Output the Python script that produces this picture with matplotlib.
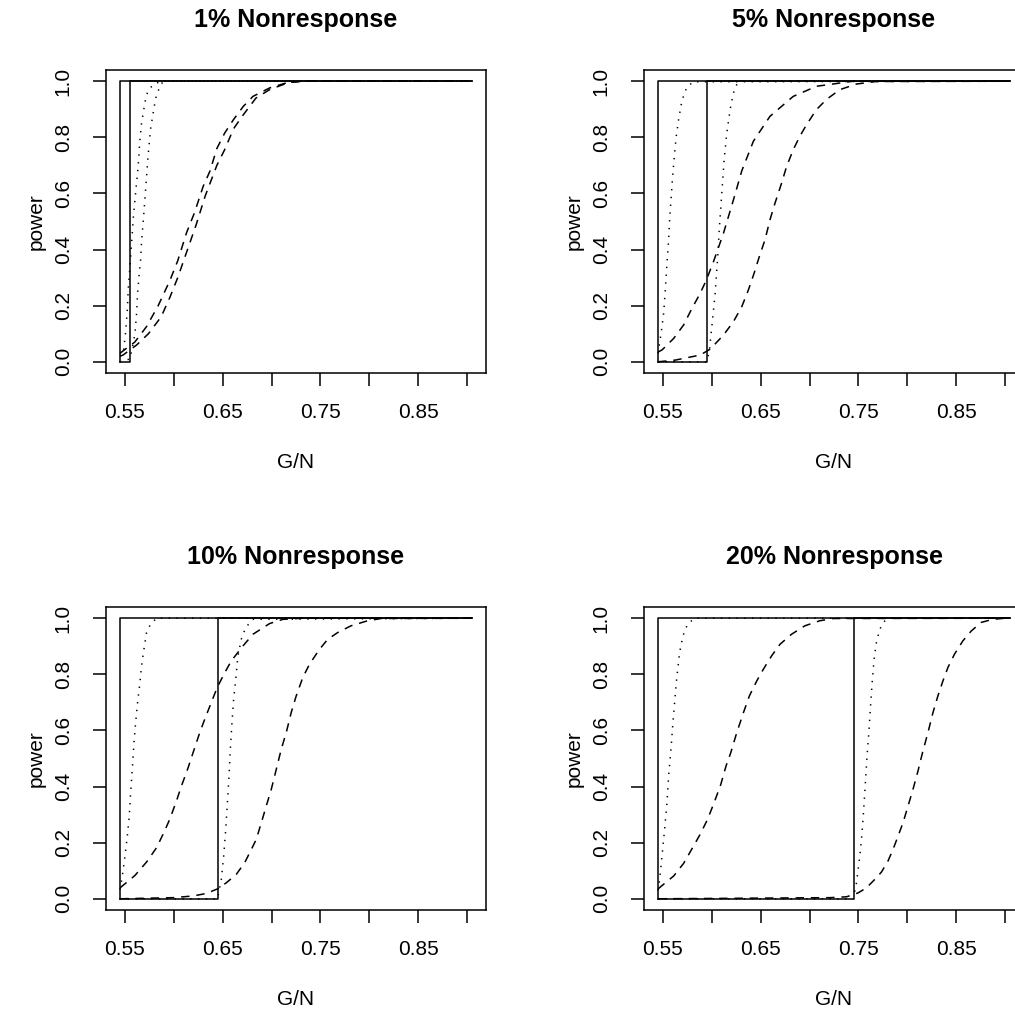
"""
Power curves vs. G/N under four nonresponse rates (2x2 panels, R base-graphics look).
Curve values were read off the reference figure.
"""
import matplotlib
matplotlib.use("Agg")
import matplotlib.pyplot as plt

plt.rcParams["font.family"] = ["Liberation Sans", "DejaVu Sans"]

TITLES = ["1% Nonresponse", "5% Nonresponse", "10% Nonresponse", "20% Nonresponse"]

X_START = 0.545
X_END = 0.905
THRESHOLDS = [0.555, 0.595, 0.645, 0.745]   # where the second solid step jumps

X_TICKS = [0.55, 0.60, 0.65, 0.70, 0.75, 0.80, 0.85, 0.90]
X_TICK_LABELS = ["0.55", "", "0.65", "", "0.75", "", "0.85", ""]
Y_TICKS = [0.0, 0.2, 0.4, 0.6, 0.8, 1.0]
Y_TICK_LABELS = ["0.0", "0.2", "0.4", "0.6", "0.8", "1.0"]

# --- 1% nonresponse ---------------------------------------------------------
P1_DOT_A_X = [0.545, 0.5483, 0.5507, 0.5524, 0.5534, 0.5561, 0.5585, 0.5612, 0.5636,
              0.5653, 0.567, 0.5704, 0.5721, 0.5755, 0.5823, 0.59, 0.905]
P1_DOT_A_Y = [0.02, 0.03, 0.107, 0.185, 0.262, 0.387, 0.512, 0.613, 0.702,
              0.792, 0.851, 0.923, 0.952, 0.976, 0.994, 1.0, 1.0]
P1_DOT_B_X = [0.545, 0.555, 0.5575, 0.5602, 0.5619, 0.5629, 0.5646, 0.566, 0.567, 0.5687,
              0.5704, 0.5721, 0.5738, 0.5762, 0.5789, 0.5806, 0.5823, 0.5857, 0.589, 0.905]
P1_DOT_B_Y = [0.0, 0.01, 0.05, 0.099, 0.172, 0.244, 0.315, 0.363, 0.43, 0.50,
              0.58, 0.66, 0.74, 0.83, 0.887, 0.923, 0.952, 0.979, 1.0, 1.0]
P1_DASH_A_X = [0.545, 0.5466, 0.56, 0.572, 0.584, 0.596, 0.604, 0.613, 0.621, 0.630,
               0.637, 0.644, 0.652, 0.661, 0.671, 0.681, 0.698, 0.715, 0.73, 0.905]
P1_DASH_A_Y = [0.03, 0.035, 0.07, 0.125, 0.20, 0.29, 0.36, 0.46, 0.53, 0.625,
               0.68, 0.76, 0.815, 0.863, 0.91, 0.946, 0.976, 0.994, 1.0, 1.0]
P1_DASH_B_X = [0.545, 0.548, 0.562, 0.574, 0.587, 0.596, 0.604, 0.613, 0.623, 0.632,
               0.644, 0.652, 0.661, 0.671, 0.684, 0.698, 0.718, 0.735, 0.905]
P1_DASH_B_Y = [0.02, 0.024, 0.06, 0.10, 0.16, 0.23, 0.30, 0.39, 0.49, 0.59,
               0.70, 0.756, 0.83, 0.88, 0.94, 0.97, 0.996, 1.0, 1.0]

# --- 5% nonresponse ---------------------------------------------------------
P2_DOT_A_X = [0.545, 0.5483, 0.5507, 0.5524, 0.5541, 0.5558, 0.5568, 0.5582, 0.5599,
              0.5616, 0.5636, 0.566, 0.5687, 0.5718, 0.5752, 0.5813, 0.905]
P2_DOT_A_Y = [0.03, 0.107, 0.173, 0.256, 0.351, 0.434, 0.506, 0.577, 0.66,
              0.732, 0.804, 0.863, 0.917, 0.958, 0.982, 0.998, 1.0]
P2_DOT_B_X = [0.545, 0.595, 0.5975, 0.6, 0.6034, 0.6058, 0.6078, 0.6102, 0.6126,
              0.6153, 0.6187, 0.6221, 0.6255, 0.6289, 0.905]
P2_DOT_B_Y = [0.0, 0.0, 0.04, 0.125, 0.244, 0.363, 0.482, 0.601, 0.72,
              0.815, 0.899, 0.958, 0.988, 1.0, 1.0]
P2_DASH_A_X = [0.545, 0.549, 0.5609, 0.5711, 0.5796, 0.5881, 0.5942, 0.6017, 0.6119,
               0.6221, 0.6306, 0.6425, 0.6595, 0.6833, 0.7071, 0.7446, 0.905]
P2_DASH_A_Y = [0.035, 0.042, 0.083, 0.131, 0.19, 0.244, 0.29, 0.357, 0.458,
               0.577, 0.68, 0.786, 0.875, 0.946, 0.982, 1.0, 1.0]
P2_DASH_B_X = [0.545, 0.5626, 0.5881, 0.5983, 0.6119, 0.6221, 0.6306, 0.6374, 0.6432,
               0.6486, 0.6544, 0.6595, 0.6646, 0.6714, 0.6765, 0.6833, 0.6901, 0.6969,
               0.7071, 0.7173, 0.7310, 0.748, 0.7684, 0.905]
P2_DASH_B_Y = [0.0, 0.006, 0.024, 0.045, 0.095, 0.143, 0.196, 0.256, 0.315,
               0.375, 0.435, 0.506, 0.565, 0.637, 0.696, 0.756, 0.804, 0.845,
               0.899, 0.935, 0.97, 0.99, 0.999, 1.0]

# --- 10% nonresponse --------------------------------------------------------
P3_DOT_A_X = [0.545, 0.5473, 0.55, 0.5524, 0.5544, 0.5558, 0.5575, 0.5592, 0.5609,
              0.5629, 0.5653, 0.567, 0.5694, 0.5721, 0.5762, 0.5823, 0.905]
P3_DOT_A_Y = [0.033, 0.081, 0.152, 0.223, 0.295, 0.378, 0.461, 0.556, 0.628,
              0.699, 0.77, 0.83, 0.889, 0.949, 0.979, 1.0, 1.0]
P3_DOT_B_X = [0.545, 0.645, 0.6455, 0.6486, 0.651, 0.6531, 0.6548, 0.6565, 0.6578,
              0.6595, 0.6612, 0.6633, 0.6656, 0.669, 0.6735, 0.681, 0.905]
P3_DOT_B_Y = [0.0, 0.0, 0.015, 0.069, 0.152, 0.247, 0.342, 0.438, 0.533,
              0.628, 0.711, 0.782, 0.865, 0.925, 0.967, 0.996, 1.0]
P3_DASH_A_X = [0.545, 0.5602, 0.5721, 0.5823, 0.5898, 0.5959, 0.6027, 0.6078, 0.6146,
               0.6197, 0.6265, 0.6316, 0.6384, 0.6446, 0.652, 0.6588, 0.6707, 0.681,
               0.698, 0.7116, 0.732, 0.905]
P3_DASH_A_Y = [0.039, 0.083, 0.131, 0.182, 0.236, 0.284, 0.349, 0.402, 0.467,
               0.521, 0.592, 0.640, 0.70, 0.755, 0.805, 0.848, 0.901, 0.943,
               0.981, 0.996, 1.0, 1.0]
P3_DASH_B_X = [0.545, 0.5993, 0.6197, 0.6333, 0.6452, 0.6537, 0.6639, 0.6724, 0.6776,
               0.6844, 0.6895, 0.6946, 0.6997, 0.7048, 0.7099, 0.715, 0.7201, 0.7252,
               0.732, 0.7388, 0.749, 0.7575, 0.7677, 0.7813, 0.7983, 0.8119, 0.905]
P3_DASH_B_Y = [0.0, 0.004, 0.010, 0.019, 0.036, 0.057, 0.087, 0.128, 0.164,
               0.212, 0.271, 0.331, 0.390, 0.461, 0.533, 0.592, 0.664, 0.723,
               0.789, 0.836, 0.889, 0.925, 0.949, 0.973, 0.991, 0.999, 1.0]

# --- 20% nonresponse --------------------------------------------------------
P4_DOT_A_X = [0.545, 0.5466, 0.549, 0.5517, 0.5541, 0.5558, 0.5582, 0.5602, 0.5622,
              0.5643, 0.567, 0.5704, 0.5752, 0.5823, 0.905]
P4_DOT_A_Y = [0.03, 0.069, 0.152, 0.247, 0.342, 0.438, 0.533, 0.628, 0.711,
              0.794, 0.877, 0.937, 0.979, 1.0, 1.0]
P4_DOT_B_X = [0.545, 0.745, 0.7455, 0.748, 0.7514, 0.7534, 0.7554, 0.7571, 0.7588,
              0.7609, 0.7626, 0.7643, 0.766, 0.7684, 0.7718, 0.7769, 0.781, 0.905]
P4_DOT_B_Y = [0.0, 0.0, 0.015, 0.057, 0.152, 0.223, 0.319, 0.414, 0.509,
              0.604, 0.699, 0.782, 0.854, 0.913, 0.961, 0.990, 1.0, 1.0]
P4_DASH_A_X = [0.545, 0.5473, 0.5609, 0.5711, 0.5813, 0.5881, 0.5956, 0.6024, 0.6092,
               0.6146, 0.6194, 0.6255, 0.6323, 0.6384, 0.6459, 0.6527, 0.6612, 0.6697,
               0.6816, 0.6952, 0.7105, 0.7241, 0.905]
P4_DASH_A_Y = [0.035, 0.042, 0.081, 0.126, 0.188, 0.230, 0.283, 0.343, 0.408,
               0.474, 0.521, 0.592, 0.663, 0.723, 0.776, 0.818, 0.866, 0.907,
               0.943, 0.973, 0.991, 0.999, 1.0]
P4_DASH_B_X = [0.545, 0.7207, 0.7378, 0.7497, 0.7582, 0.7667, 0.7735, 0.7803, 0.7854,
               0.7905, 0.7956, 0.8007, 0.8058, 0.8109, 0.816, 0.8211, 0.8262, 0.8313,
               0.8364, 0.8415, 0.8483, 0.8568, 0.8653, 0.8755, 0.8874, 0.9, 0.905]
P4_DASH_B_Y = [0.0, 0.004, 0.007, 0.021, 0.039, 0.069, 0.095, 0.135, 0.176,
               0.223, 0.271, 0.330, 0.390, 0.455, 0.527, 0.592, 0.663, 0.723,
               0.776, 0.824, 0.872, 0.919, 0.954, 0.985, 0.996, 1.0, 1.0]

PANELS = [
    (P1_DOT_A_X, P1_DOT_A_Y, P1_DOT_B_X, P1_DOT_B_Y, P1_DASH_A_X, P1_DASH_A_Y, P1_DASH_B_X, P1_DASH_B_Y),
    (P2_DOT_A_X, P2_DOT_A_Y, P2_DOT_B_X, P2_DOT_B_Y, P2_DASH_A_X, P2_DASH_A_Y, P2_DASH_B_X, P2_DASH_B_Y),
    (P3_DOT_A_X, P3_DOT_A_Y, P3_DOT_B_X, P3_DOT_B_Y, P3_DASH_A_X, P3_DASH_A_Y, P3_DASH_B_X, P3_DASH_B_Y),
    (P4_DOT_A_X, P4_DOT_A_Y, P4_DOT_B_X, P4_DOT_B_Y, P4_DASH_A_X, P4_DASH_A_Y, P4_DASH_B_X, P4_DASH_B_Y),
]

W = H = 1015
# plot-region boxes in pixels: left, top (right column runs past the figure edge)
BOXES = [(106, 70), (644, 70), (106, 607), (644, 607)]
BOX_W, BOX_H = 380, 303

LW = 1.1
DASHED = (0, (5.5, 4.5))
DOTTED = (0, (0.9, 4.2))

fig = plt.figure(figsize=(W / 100, H / 100), dpi=100)

for (left, top), title, thr, curves in zip(BOXES, TITLES, THRESHOLDS, PANELS):
    ax = fig.add_axes([left / W, (H - top - BOX_H) / H, BOX_W / W, BOX_H / H])
    dax, day, dbx, dby, eax, eay, ebx, eby = curves

    # solid steps: one jumps at the start, one at the panel threshold
    ax.plot([X_START, X_START, X_END], [0, 1, 1], color="black", lw=LW)
    ax.plot([X_START, thr, thr, X_END], [0, 0, 1, 1], color="black", lw=LW)
    ax.plot(dax, day, color="black", lw=LW, ls=DOTTED)
    ax.plot(dbx, dby, color="black", lw=LW, ls=DOTTED)
    ax.plot(eax, eay, color="black", lw=LW, ls=DASHED)
    ax.plot(ebx, eby, color="black", lw=LW, ls=DASHED)

    # R-style 4% padding around the data range
    xpad = 0.04 * (X_END - X_START)
    ax.set_xlim(X_START - xpad, X_END + xpad)
    ax.set_ylim(-0.04, 1.04)

    ax.set_xticks(X_TICKS)
    ax.set_xticklabels(X_TICK_LABELS)
    ax.set_yticks(Y_TICKS)
    ax.set_yticklabels(Y_TICK_LABELS, rotation=90, va="center")
    ax.tick_params(axis="both", direction="out", length=9.4, width=LW,
                   labelsize=15, colors="black")
    ax.tick_params(axis="x", pad=12)
    ax.tick_params(axis="y", pad=14.5)
    for s in ax.spines.values():
        s.set_linewidth(LW)

    ax.set_title(title, fontsize=18, fontweight="bold", pad=31)
    ax.set_xlabel("G/N", fontsize=15)
    ax.xaxis.set_label_coords(0.5, -0.265)
    ax.set_ylabel("power", fontsize=15)
    ax.yaxis.set_label_coords(-0.158, 0.5)

fig.savefig("out.png", dpi=100)
